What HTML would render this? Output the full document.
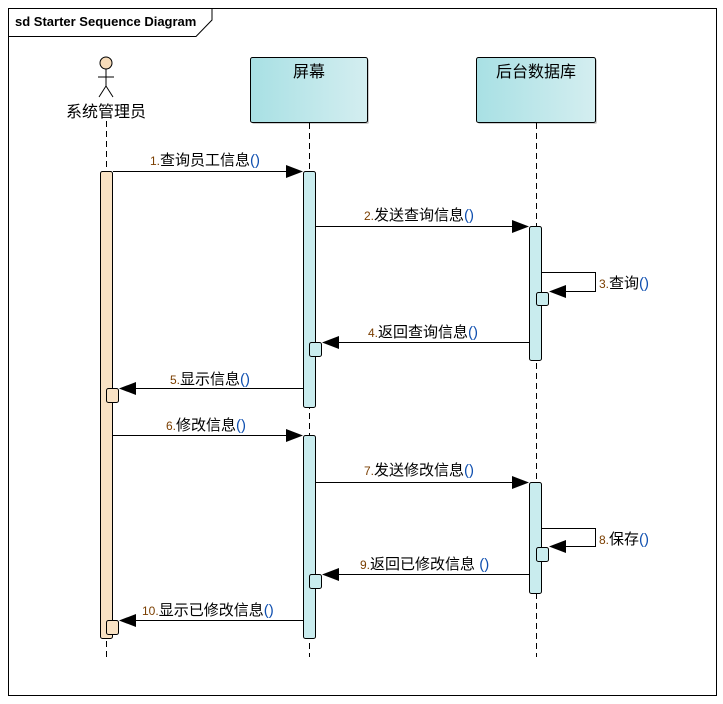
<!DOCTYPE html>
<html><head><meta charset="utf-8"><style>
html,body{margin:0;padding:0;background:#fff;}
svg{display:block;}
text{font-family:"Liberation Sans","Noto Sans CJK SC",sans-serif;}
.m{font-size:15px;fill:#000;}
.n{fill:#7a3e00;font-size:12px;}
.p{fill:#1050b0;}
</style></head><body>
<svg width="723" height="704" viewBox="0 0 723 704" xmlns="http://www.w3.org/2000/svg">
<defs>
<linearGradient id="g" x1="0" x2="1" y1="0" y2="0"><stop offset="0" stop-color="#a8e0e4"/><stop offset="1" stop-color="#d4eef0"/></linearGradient>
</defs>
<rect x="8.5" y="8.5" width="708" height="687" fill="#fff" stroke="#000" stroke-width="1"/>
<path d="M8.5 36.5 H196 L212 20 V8.5" fill="none" stroke="#000"/>
<text x="15" y="26" style="font-size:13px;font-weight:bold">sd Starter Sequence Diagram</text>

<circle cx="106" cy="63" r="6" fill="#f7dcba" stroke="#000"/>
<line x1="106" y1="69" x2="106" y2="86" stroke="#000"/>
<line x1="98" y1="77" x2="114" y2="77" stroke="#000"/>
<path d="M99 97 L106 86 L113 97" fill="none" stroke="#000"/>
<text x="106" y="117" text-anchor="middle" style="font-size:16px">系统管理员</text>

<rect x="252" y="59" width="117" height="65" rx="2" fill="#ccc"/>
<rect x="250.5" y="57.5" width="117" height="65" rx="2" fill="url(#g)" stroke="#000"/>
<text x="309" y="77" text-anchor="middle" style="font-size:16px">屏幕</text>
<rect x="478" y="59" width="119" height="65" rx="2" fill="#ccc"/>
<rect x="476.5" y="57.5" width="119" height="65" rx="2" fill="url(#g)" stroke="#000"/>
<text x="536" y="77" text-anchor="middle" style="font-size:16px">后台数据库</text>

<g stroke="#000" stroke-dasharray="6,4">
<line x1="106.5" y1="121" x2="106.5" y2="657"/>
<line x1="309.5" y1="123" x2="309.5" y2="657"/>
<line x1="536.5" y1="123" x2="536.5" y2="657"/>
</g>

<g stroke="#000" stroke-width="1">
<rect x="100.5" y="171.5" width="12" height="467" rx="2" fill="#f9e2c4"/>
<rect x="303.5" y="171.5" width="12" height="236" rx="2" fill="#c9ecee"/>
<rect x="303.5" y="435.5" width="12" height="203" rx="2" fill="#c9ecee"/>
<rect x="529.5" y="226.5" width="12" height="134" rx="2" fill="#c9ecee"/>
<rect x="529.5" y="482.5" width="12" height="111" rx="2" fill="#c9ecee"/>
<rect x="536.5" y="292.5" width="12" height="13" rx="2" fill="#c9ecee"/>
<rect x="309.5" y="342.5" width="12" height="14" rx="2" fill="#c9ecee"/>
<rect x="106.5" y="388.5" width="12" height="14" rx="2" fill="#f9e2c4"/>
<rect x="536.5" y="547.5" width="12" height="14" rx="2" fill="#c9ecee"/>
<rect x="309.5" y="574.5" width="12" height="14" rx="2" fill="#c9ecee"/>
<rect x="106.5" y="620.5" width="12" height="14" rx="2" fill="#f9e2c4"/>
</g>

<g stroke="#000" fill="none">
<line x1="113" y1="171.5" x2="290" y2="171.5"/>
<line x1="316" y1="226.5" x2="516" y2="226.5"/>
<path d="M542 272.5 H595.5 V291.5 H562"/>
<line x1="529" y1="342.5" x2="336" y2="342.5"/>
<line x1="303" y1="388.5" x2="133" y2="388.5"/>
<line x1="113" y1="435.5" x2="290" y2="435.5"/>
<line x1="316" y1="482.5" x2="516" y2="482.5"/>
<path d="M542 528.5 H595.5 V546.5 H562"/>
<line x1="529" y1="574.5" x2="336" y2="574.5"/>
<line x1="303" y1="620.5" x2="133" y2="620.5"/>
</g>
<g fill="#000">
<path d="M303 171.5 L286 165 L286 178 Z"/>
<path d="M529 226.5 L512 220 L512 233 Z"/>
<path d="M549 291.5 L566 285 L566 298 Z"/>
<path d="M322 342.5 L339 336 L339 349 Z"/>
<path d="M119 388.5 L136 382 L136 395 Z"/>
<path d="M303 435.5 L286 429 L286 442 Z"/>
<path d="M529 482.5 L512 476 L512 489 Z"/>
<path d="M549 546.5 L566 540 L566 553 Z"/>
<path d="M322 574.5 L339 568 L339 581 Z"/>
<path d="M119 620.5 L136 614 L136 627 Z"/>
</g>

<g class="m">
<text x="150" y="165"><tspan class="n">1.</tspan>查询员工信息<tspan class="p">()</tspan></text>
<text x="364" y="220"><tspan class="n">2.</tspan>发送查询信息<tspan class="p">()</tspan></text>
<text x="599" y="288"><tspan class="n">3.</tspan>查询<tspan class="p">()</tspan></text>
<text x="368" y="337"><tspan class="n">4.</tspan>返回查询信息<tspan class="p">()</tspan></text>
<text x="170" y="384"><tspan class="n">5.</tspan>显示信息<tspan class="p">()</tspan></text>
<text x="166" y="430"><tspan class="n">6.</tspan>修改信息<tspan class="p">()</tspan></text>
<text x="364" y="475"><tspan class="n">7.</tspan>发送修改信息<tspan class="p">()</tspan></text>
<text x="599" y="544"><tspan class="n">8.</tspan>保存<tspan class="p">()</tspan></text>
<text x="360" y="569"><tspan class="n">9.</tspan>返回已修改信息<tspan class="p"> ()</tspan></text>
<text x="142" y="615"><tspan class="n">10.</tspan>显示已修改信息<tspan class="p">()</tspan></text>
</g>
</svg>
</body></html>
